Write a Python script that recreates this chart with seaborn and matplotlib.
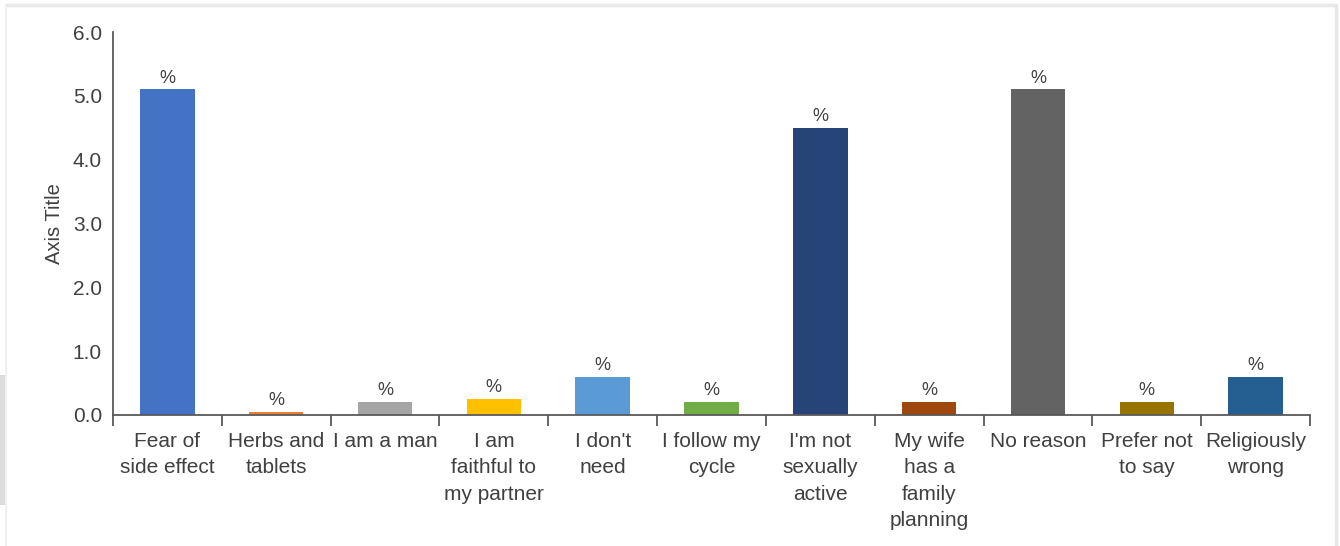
import matplotlib
matplotlib.use("Agg")
import matplotlib.pyplot as plt
from matplotlib.lines import Line2D
from matplotlib.patches import Rectangle
from matplotlib.ticker import FixedLocator, MultipleLocator
import seaborn as sns
import pandas as pd

# Reasons for not using contraception
categories = [
    "Fear of\nside effect", "Herbs and\ntablets", "I am a man",
    "I am\nfaithful to\nmy partner", "I don't\nneed", "I follow my\ncycle",
    "I'm not\nsexually\nactive", "My wife\nhas a\nfamily\nplanning",
    "No reason", "Prefer not\nto say", "Religiously\nwrong",
]
values = [5.1, 0.05, 0.2, 0.25, 0.6, 0.2, 4.5, 0.2, 5.1, 0.2, 0.6]
bar_labels = ["%"] * len(categories)
colors = ["#4472C4", "#ED7D31", "#A5A5A5", "#FFC000", "#5B9BD5", "#70AD47",
          "#264478", "#9E480E", "#636363", "#997300", "#255E91"]

sns.set_style("white")
plt.rcParams["font.family"] = ["Liberation Sans", "DejaVu Sans"]

df = pd.DataFrame({"reason": categories, "value": values})

fig = plt.figure(figsize=(13.4, 5.46), dpi=100)
ax = fig.add_axes([113 / 1340, 1 - 415 / 546, (1310 - 113) / 1340, (415 - 32) / 546])

sns.barplot(data=df, x="reason", y="value", hue="reason", palette=colors,
            width=0.5, legend=False, ax=ax, saturation=1, linewidth=0)

for container, lab in zip(ax.containers, bar_labels):
    ax.bar_label(container, labels=[lab], padding=2, fontsize=13, color="#404040")

text_color = "#404040"
axis_color = "#595959"
n = len(categories)
ax.set_xlim(-0.5, n - 0.5)
ax.set_ylim(0, 6)
ax.yaxis.set_major_locator(MultipleLocator(1.0))
ax.set_yticklabels([f"{v:.1f}" for v in ax.get_yticks()])
ax.tick_params(axis="y", length=0, pad=8, labelsize=15, labelcolor=text_color)
ax.tick_params(axis="x", which="major", length=0, pad=12, labelsize=15, labelcolor=text_color)
ax.xaxis.set_minor_locator(FixedLocator([i - 0.5 for i in range(n + 1)]))
ax.tick_params(axis="x", which="minor", bottom=True, length=8, width=1.3,
               color=axis_color, direction="out")
ax.set_xlabel("")
ax.set_ylabel("Axis Title", fontsize=14.5, color=text_color, labelpad=6)
for lbl in ax.get_xticklabels():
    lbl.set_linespacing(1.5)

for side in ["top", "right"]:
    ax.spines[side].set_visible(False)
for side in ["left", "bottom"]:
    ax.spines[side].set_color(axis_color)
    ax.spines[side].set_linewidth(1.3)
ax.set_facecolor("white")

# light frame around the chart area
frame_kw = dict(transform=fig.transFigure, color="#e8e8e8", linewidth=2.5)
fig.add_artist(Line2D([6 / 1340, 1336 / 1340], [1 - 5 / 546, 1 - 5 / 546], **frame_kw))
fig.add_artist(Line2D([1336 / 1340, 1336 / 1340], [0, 1 - 5 / 546], **frame_kw))
fig.add_artist(Line2D([6 / 1340, 6 / 1340], [0, 1 - 5 / 546], transform=fig.transFigure,
                      color="#f0f0f0", linewidth=1.5))
# grey strip on the left edge
fig.add_artist(Rectangle((0, 1 - 505 / 546), 5 / 1340, 130 / 546,
                         transform=fig.transFigure, facecolor="#dcdcdc",
                         edgecolor="none"))

fig.savefig("out.png", dpi=100, facecolor="white")
